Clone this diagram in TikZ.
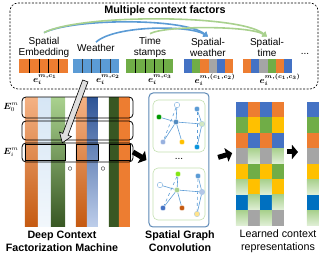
\documentclass[tikz,border=0pt]{standalone}
\usepackage{fontspec}
\setmainfont{Liberation Sans}
\usepackage{bm}
\usetikzlibrary{arrows.meta,shapes.arrows,positioning}

\definecolor{cbleu}{HTML}{4472C4}
\definecolor{cciel}{HTML}{5B9BD5}
\definecolor{corange}{HTML}{ED7D31}
\definecolor{cvert}{HTML}{70AD47}
\definecolor{cgris}{HTML}{A5A5A5}
\definecolor{cjaune}{HTML}{FFC000}
\definecolor{cbleufonce}{HTML}{0070C0}
\definecolor{cvertclair}{HTML}{A9D18E}
\definecolor{cvertpale}{HTML}{E2F0D9}
\definecolor{corangeclair}{HTML}{F4B183}
\definecolor{corangefonce}{HTML}{C55A11}
\definecolor{cvertfonce}{HTML}{385723}
\definecolor{cbleunuit}{HTML}{2F5597}
\definecolor{cbleusgc}{HTML}{5B87B5}

\tikzset{
  etiq/.style={font=\fontsize{10}{11}\selectfont, align=center, inner sep=0pt},
  titre/.style={font=\bfseries\fontsize{10.7}{13}\selectfont, align=center, inner sep=0pt},
  vecteur/.style={font=\small, inner sep=0pt},
  cadre/.style={draw, line width=0.8pt, rounded corners=4pt},
  noeud/.style={circle, inner sep=0pt, minimum size=5.5pt, draw=white, line width=0.3pt},
  arete/.style={cciel, line width=0.6pt},
  arc bleu/.style={cciel, line width=1.6pt, -{Triangle[length=4.5pt,width=6pt]}},
  arc vert/.style={cvertclair, line width=1.6pt, -{Triangle[length=4.5pt,width=6pt]}},
  grosse fleche/.style={line width=5pt, -{Triangle[length=6pt,width=14pt]}},
  pave bleu/.style={fill=cbleu},
  pave orange/.style={fill=corange},
  pave vert/.style={fill=cvert},
  pave jaune/.style={fill=cjaune},
  pave gris/.style={fill=cgris},
  pave fonce/.style={fill=cbleufonce},
  pave clair/.style={top color=cvertclair, bottom color=cvertpale},
}

\begin{document}
\begin{tikzpicture}[x=1pt, y=-1pt]
    \useasboundingbox (0,0) rectangle (325,254);

    % Facteurs de contexte
    \draw[dashed, dash pattern=on 2pt off 1.5pt, rounded corners=8pt, line width=0.6pt] (10,3) rectangle (318,89);
    \node[font=\bfseries\fontsize{10.8}{12}\selectfont] (facteurs) at (165,11) {Multiple context factors};

    \node[etiq] (lemb) at (44,47) {Spatial\\Embedding};
    \node[etiq] (lwea) at (96,48) {Weather};
    \node[etiq] (lts) at (150,47) {Time\\stamps};
    \node[etiq] (lsw) at (208,47) {Spatial-\\weather};
    \node[etiq] (lst) at (267,47) {Spatial-\\time};
    \node[etiq] (suite) at (305,54) {...};

    % Barres simples
    \fill[corange] (19,59) rectangle (68,73);
    \fill[cciel] (73,59) rectangle (119,73);
    \fill[cvert] (126,59) rectangle (173,73);
    \foreach \x in {0,1,2,3} {
        \draw[line width=0.5pt] ({29+9.8*\x},59) -- ++(0,14);
        \draw[line width=0.5pt, black!80] ({82.2+9.2*\x},59) -- ++(0,14);
        \draw[line width=0.5pt] ({135.4+9.4*\x},59) -- ++(0,14);
    }

    % Barres croisees
    \foreach \c [count=\k] in {bleu,vert,orange,gris,bleu,orange}
        \path[pave \c] ({184+8.17*(\k-1)},59) rectangle ++(8.17,14);
    \foreach \c [count=\k] in {orange,bleu,gris,vert,orange,bleu}
        \path[pave \c] ({243+8.17*(\k-1)},59) rectangle ++(8.17,14);

    \node[vecteur] (e1) at (45,80) {$\bm{e_i^{m,c_1}}$};
    \node[vecteur] (e2) at (108,80) {$\bm{e_i^{m,c_2}}$};
    \node[vecteur] (e3) at (160,80) {$\bm{e_i^{m,c_3}}$};
    \node[vecteur] (e12) at (215,80) {$\bm{e_i^{m,(c_1,c_2)}}$};
    \node[vecteur] (e13) at (280,80) {$\bm{e_i^{m,(c_1,c_3)}}$};

    % Arcs de croisement
    \draw[arc bleu] ([yshift=4pt]lemb.north) .. controls (75,18) and (185,18) .. ([yshift=1pt]lsw.north);
    \draw[arc bleu] ([yshift=2pt]lwea.north) .. controls (115,25) and (190,25) .. ([yshift=1pt]lsw.north);
    \draw[arc vert] ([yshift=4pt]lemb.north) .. controls (80,14) and (240,14) .. ([yshift=1pt]lst.north);
    \draw[arc vert] ([yshift=3pt]lts.north) .. controls (165,25.5) and (250,25.5) .. ([yshift=1pt]lst.north);

    % Machine de factorisation
    \shade[top color=corangeclair, middle color=corange, bottom color=corangefonce] (25,98) rectangle (38,227);
    \shade[top color=cciel!25, middle color=cciel!65, bottom color=cciel!8] (38,98) rectangle (51,227);
    \shade[top color=cvertclair, middle color=cvert, bottom color=cvertfonce] (51,98) rectangle (65,227);
    \shade[top color=corangeclair, middle color=corange, bottom color=corangefonce] (76,98) rectangle (87,227);
    \shade[top color=cbleunuit, middle color=cbleu, bottom color=cbleu!35] (87,98) rectangle (98,227);
    \shade[top color=cvertfonce, middle color=cvertpale, bottom color=cvertfonce] (109,98) rectangle (119,227);
    \shade[top color=corange, middle color=white, bottom color=corange] (119,98) rectangle (130,227);

    \draw[cadre] (22,97) rectangle (133,118);
    \draw[cadre] (22,121) rectangle (133,140);
    \draw[cadre] (22,143) rectangle (133,162);
    \draw[line width=0.8pt] (25,144.5) rectangle (65,160.5);
    \draw[line width=0.8pt] (76,144.5) rectangle (98,160.5);
    \draw[line width=0.8pt] (109,144.5) rectangle (130,160.5);

    \node[font=\small, inner sep=0pt] (E0) at (11,107) {$\bm{E}^m_0$};
    \node[font=\small, inner sep=0pt] (Ei) at (11,152) {$\bm{E}^m_i$};
    \node[inner sep=0pt] (o1) at (70,169) {$\circ$};
    \node[inner sep=0pt] (o2) at (103,169) {$\circ$};

    \node[single arrow, draw, fill=gray!25, line width=0.6pt, inner sep=2.5pt,
          single arrow head extend=3.5pt, single arrow tip angle=70,
          minimum height=66pt, rotate=-110.4] (plonge) at (74.5,110) {};

    \node[titre] (dcfm) at (62,241.5) {Deep Context\\Factorization Machine};

    % Convolution de graphe
    \node[draw=cbleusgc, line width=1pt, rounded corners=4pt, minimum width=60pt, minimum height=134pt] (sgc) at (179,160) {};
    \node[draw=cvertclair!70, line width=0.6pt, rounded corners=5pt, minimum width=52pt, minimum height=52pt] (g1) at (179,126) {};
    \node[draw=cvertclair!70, line width=0.6pt, rounded corners=5pt, minimum width=52pt, minimum height=52pt] (g2) at (179,194) {};
    \node[inner sep=0pt] (pts) at (179,159) {...};

    \node[noeud, draw=cciel, fill=white] (a1) at (177,105) {};
    \node[noeud, fill=green!60!black] (a2) at (159,117) {};
    \node[noeud, fill=cciel!90!black] (a3) at (176,122) {};
    \node[noeud, fill=cbleu!55] (a4) at (163,142) {};
    \node[noeud, fill=cjaune] (a5) at (182,142) {};
    \node[noeud, fill=cciel] (a6) at (197,109) {};
    \node[noeud, fill=cvertpale!70!cvertclair, draw=cciel!60] (a7) at (202,124) {};
    \node[noeud, fill=cyan!80!blue] (a8) at (197,147) {};
    \foreach \u/\v in {a3/a1, a3/a2, a3/a4, a3/a5, a3/a7, a6/a7, a7/a8}
        \draw[arete] (\u) -- (\v);
    \draw[arete, dashed] (a1) -- (a4);
    \draw[arete, dashed] (a6) -- (a8);

    \node[noeud, fill=green!45!yellow!70!cvert] (b1) at (178,174) {};
    \node[noeud, draw=cciel, fill=white] (b2) at (160,185) {};
    \node[noeud, fill=cvertclair] (b3) at (177,190) {};
    \node[noeud, fill=cciel] (b4) at (198,176) {};
    \node[noeud, fill=cbleu!40, draw=cciel!60] (b5) at (202,192) {};
    \node[noeud, fill=cbleu] (b6) at (163,208) {};
    \node[noeud, fill=corangefonce] (b7) at (182,208) {};
    \node[noeud, fill=cjaune!45, draw=cciel!60] (b8) at (197,214) {};
    \foreach \u/\v in {b3/b1, b3/b2, b3/b6, b3/b7, b3/b5, b4/b5, b5/b8}
        \draw[arete] (\u) -- (\v);
    \draw[arete, dashed] (b1) -- (b6);
    \draw[arete, dashed] (b4) -- (b8);

    \node[titre] (lsgc) at (180,241.5) {Spatial Graph\\Convolution};

    % Representations apprises
    \foreach \a/\b [count=\r] in {bleu/orange, vert/jaune, orange/bleu, gris/clair,
                                 jaune/vert, clair/jaune, fonce/clair, clair/gris} {
        \path[pave \a] (236,{102+15.5*(\r-1)}) rectangle ++(12,15.5);
        \path[pave \b] (248,{102+15.5*(\r-1)}) rectangle ++(12,15.5);
        \path[pave \a] (260,{102+15.5*(\r-1)}) rectangle ++(12,15.5);
        \path[pave \b] (272,{102+15.5*(\r-1)}) rectangle ++(12,15.5);
        \path[pave \a] (307,{102+15.5*(\r-1)}) rectangle ++(12,15.5);
    }
    \coordinate (grilleO) at (236,152);
    \coordinate (grilleE) at (284,152);
    \coordinate (finale) at (307,152);

    \node[font=\fontsize{10.7}{13}\selectfont, align=center, inner sep=0pt] (lrep) at (278,241.5) {Learned context\\representations};

    % Fleches entre etapes
    \coordinate (dcfmE) at (133,152);
    \draw[grosse fleche] (dcfmE) -- ([xshift=-2pt]sgc.west);
    \draw[grosse fleche, shorten <=9pt, shorten >=4pt] (sgc.east) -- (grilleO);
    \draw[grosse fleche, shorten <=3pt, shorten >=9pt] (grilleE) -- (finale);
\end{tikzpicture}
\end{document}
